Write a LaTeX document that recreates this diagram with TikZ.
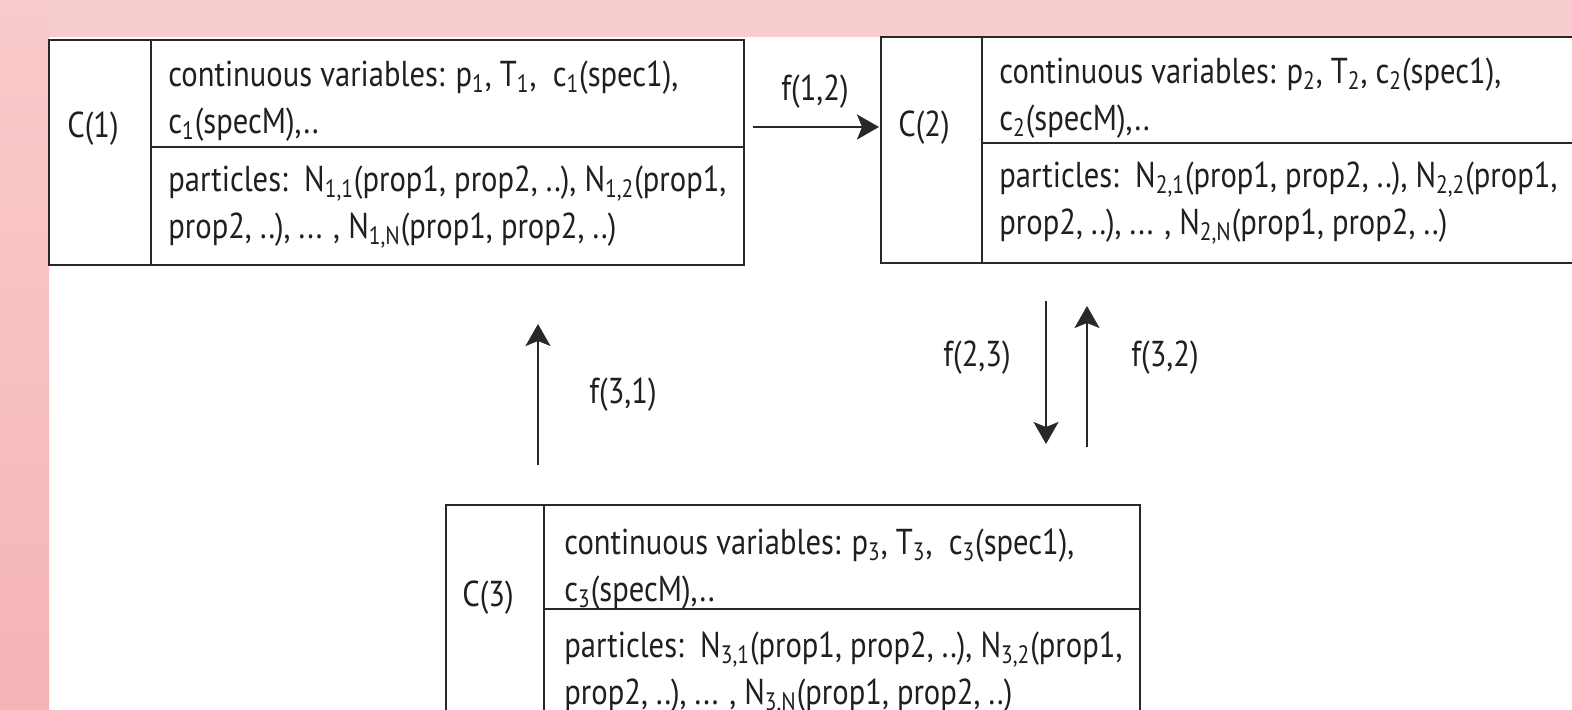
\documentclass[tikz,border=0pt]{standalone}
\usepackage{fontspec}
\setmainfont[FakeStretch=0.85]{PT Sans}
\usetikzlibrary{arrows.meta}
\definecolor{pinktop}{RGB}{248,205,207}
\definecolor{pinkA}{RGB}{249,203,204}
\definecolor{pinkB}{RGB}{245,180,182}
\definecolor{linec}{RGB}{40,40,40}
\tikzset{
  cell/.style={draw=linec, line width=1.15pt, inner sep=0pt, fill=none},
  txt/.style={anchor=west, align=left, inner sep=0pt, font=\fontsize{18}{23.5}\selectfont, text=black!88},
  lab/.style={inner sep=0pt, font=\fontsize{18}{23.5}\selectfont, text=black!88},
  flow/.style={draw=linec, line width=1pt, -{Stealth[length=11pt,width=12.5pt,inset=2.5pt]}}
}
\begin{document}
\begin{tikzpicture}[x=0.5pt,y=-0.5pt]
\useasboundingbox (0,0) rectangle (1572,710);
\clip (0,0) rectangle (1572,710);
\fill[white] (0,0) rectangle (1572,710);
\fill[pinktop] (0,0) rectangle (1572,37);
\shade[top color=pinkA, bottom color=pinkB] (0,0) rectangle (49,710);

% Box 1
\node[cell, minimum width=51pt, minimum height=112.5pt] (b1c) at (100,152.5) {};
\node[cell, minimum width=296.5pt, minimum height=53.5pt] (b1v) at (447.5,93.5) {};
\node[cell, minimum width=296.5pt, minimum height=59pt] (b1p) at (447.5,206) {};
\node[lab] (C1) at (93,129) {C(1)};
\node[txt] (t1v) at (168,101) {continuous variables: p\textsubscript{1}, T\textsubscript{1},\ \ c\textsubscript{1}(spec1),\\c\textsubscript{1}(specM),..};
\node[txt] (t1p) at (168,207) {particles:\ \ N\textsubscript{1,1}(prop1, prop2, ..), N\textsubscript{1,2}(prop1,\\prop2, ..), ... ,\ N\textsubscript{1,N}(prop1, prop2, ..)};

% Box 2
\node[cell, minimum width=50.5pt, minimum height=113pt] (b2c) at (931.5,150) {};
\node[cell, minimum width=329pt, minimum height=53pt] (b2v) at (1311,90) {};
\node[cell, minimum width=329pt, minimum height=60pt] (b2p) at (1311,203) {};
\node[lab] (C2) at (924,128) {C(2)};
\node[txt] (t2v) at (999,98) {continuous variables: p\textsubscript{2}, T\textsubscript{2}, c\textsubscript{2}(spec1),\\c\textsubscript{2}(specM),..};
\node[txt] (t2p) at (999,203) {particles:\ \ N\textsubscript{2,1}(prop1, prop2, ..), N\textsubscript{2,2}(prop1,\\prop2, ..), ... ,\ N\textsubscript{2,N}(prop1, prop2, ..)};

% Box 3
\node[cell, minimum width=49pt, minimum height=137.5pt] (b3c) at (495,642.5) {};
\node[cell, minimum width=298pt, minimum height=52pt] (b3v) at (842,557) {};
\node[cell, minimum width=298pt, minimum height=85.5pt] (b3p) at (842,694.5) {};
\node[lab] (C3) at (488,598) {C(3)};
\node[txt] (t3v) at (564,569) {continuous variables: p\textsubscript{3}, T\textsubscript{3},\ \ c\textsubscript{3}(spec1),\\c\textsubscript{3}(specM),..};
\node[txt] (t3p) at (564,673) {particles:\ \ N\textsubscript{3,1}(prop1, prop2, ..), N\textsubscript{3,2}(prop1,\\prop2, ..), ... ,\ N\textsubscript{3,N}(prop1, prop2, ..)};

% Arrows
\coordinate (a12s) at (753,127);
\coordinate (a12e) at (879,127);
\draw[flow] (a12s) -- (a12e);
\node[lab] (f12) at (815,92) {f(1,2)};

\coordinate (a31s) at (538,465);
\coordinate (a31e) at (538,324);
\draw[flow] (a31s) -- (a31e);
\node[lab] (f31) at (623,395) {f(3,1)};

\coordinate (a23s) at (1046,301);
\coordinate (a23e) at (1046,444);
\draw[flow] (a23s) -- (a23e);
\node[lab] (f23) at (977,358) {f(2,3)};

\coordinate (a32s) at (1087,447);
\coordinate (a32e) at (1087,306);
\draw[flow] (a32s) -- (a32e);
\node[lab] (f32) at (1165,358) {f(3,2)};
\end{tikzpicture}
\end{document}
